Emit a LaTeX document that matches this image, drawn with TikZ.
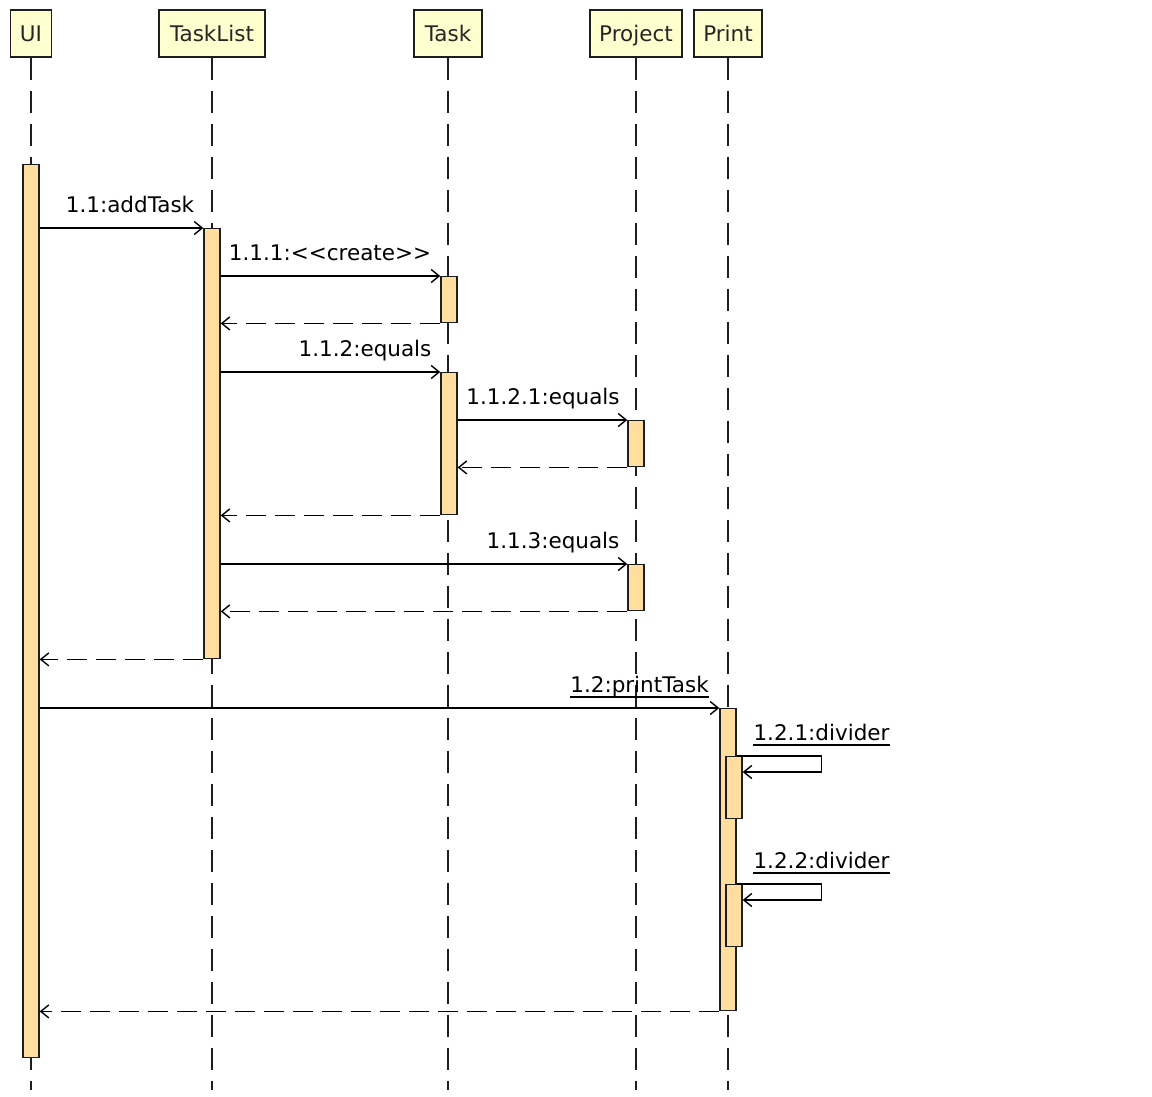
\documentclass[tikz,border=0pt]{standalone}
\usepackage{fontspec}
\setmainfont{DejaVu Sans}
\usetikzlibrary{arrows.meta}
\definecolor{hdrfill}{HTML}{FEFECE}
\definecolor{actfill}{HTML}{FFDEA0}
\definecolor{edgec}{HTML}{1E1E1E}
\begin{document}
\begin{tikzpicture}[x=1pt,y=-1pt,
  lblfont/.style={font=\fontsize{21.5}{25}\selectfont},
  hdr/.style={draw=edgec, fill=hdrfill, line width=1.4pt, minimum height=47pt, inner sep=0pt, lblfont, text=black!85, text height=15.6pt, text depth=0pt},
  lifeline/.style={draw=edgec, line width=1.5pt, dash pattern=on 22pt off 11pt},
  act/.style={draw=edgec, fill=actfill, line width=1.4pt, minimum width=16pt, inner sep=0pt},
  msg/.style={draw=black, line width=1.4pt, -{Straight Barb[length=8pt,width=13pt,line width=1.4pt]}},
  ret/.style={msg, dash pattern=on 20pt off 9pt},
  lbl/.style={lblfont, inner sep=0pt, anchor=base},
  uline/.style={draw=black, line width=1.4pt}
]
\useasboundingbox (0,0) rectangle (1152,1096);
\fill[white] (0,0) rectangle (1152,1096);

% headers
\node[hdr, minimum width=41pt] (hUI) at (31,33.5) {UI};
\node[hdr, minimum width=106pt] (hTL) at (212,33.5) {TaskList};
\node[hdr, minimum width=68pt] (hT) at (448,33.5) {Task};
\node[hdr, minimum width=92pt] (hP) at (636,33.5) {Project};
\node[hdr, minimum width=68pt] (hPr) at (728,33.5) {Print};

% lifeline ends
\coordinate (eUI) at (31,1090);
\coordinate (eTL) at (212,1090);
\coordinate (eT) at (448,1090);
\coordinate (eP) at (636,1090);
\coordinate (ePr) at (728,1090);

\draw[lifeline] (hUI.south) -- (eUI);
\draw[lifeline] (hTL.south) -- (eTL);
\draw[lifeline] (hT.south) -- (eT);
\draw[lifeline] (hP.south) -- (eP);
\draw[lifeline] (hPr.south) -- (ePr);

% activation bars
\node[act, minimum height=893pt, anchor=north] (aUI) at (31,164) {};
\node[act, minimum height=430pt, anchor=north] (aTL) at (212,228) {};
\node[act, minimum height=46pt, anchor=north] (aT1) at (449,276) {};
\node[act, minimum height=142pt, anchor=north] (aT2) at (449,372) {};
\node[act, minimum height=46pt, anchor=north] (aP1) at (636,420) {};
\node[act, minimum height=46pt, anchor=north] (aP2) at (636,564) {};
\node[act, minimum height=302pt, anchor=north] (aPr) at (728,708) {};
\node[act, minimum height=62pt, anchor=north] (aD1) at (734,756) {};
\node[act, minimum height=62pt, anchor=north] (aD2) at (734,884) {};

% messages
\draw[msg] (aUI.east |- aTL.north) -- (aTL.north west);
\draw[msg] (aTL.east |- aT1.north) -- (aT1.north west);
\draw[ret] (aT1.south west) -- (aTL.east |- aT1.south);
\draw[msg] (aTL.east |- aT2.north) -- (aT2.north west);
\draw[msg] (aT2.east |- aP1.north) -- (aP1.north west);
\draw[ret] (aP1.south west) -- (aT2.east |- aP1.south);
\draw[ret] (aT2.south west) -- (aTL.east |- aT2.south);
\draw[msg] (aTL.east |- aP2.north) -- (aP2.north west);
\draw[ret] (aP2.south west) -- (aTL.east |- aP2.south);
\draw[ret] (aTL.south west) -- (aUI.east |- aTL.south);
\draw[msg] (aUI.east |- aPr.north) -- (aPr.north west);
\draw[msg] (aPr.east |- aD1.north) -- ++(85,0) |- ([yshift=-16pt]aD1.north east);
\draw[msg] (aPr.east |- aD2.north) -- ++(85,0) |- ([yshift=-16pt]aD2.north east);
\draw[ret] (aPr.south west) -- (aUI.east |- aPr.south);

% labels
\node[lbl] (l1) at (130,212) {1.1:addTask};
\node[lbl] (l2) at (330,260) {1.1.1:<{}<create>{}>};
\node[lbl] (l3) at (365,356) {1.1.2:equals};
\node[lbl] (l4) at (543,404) {1.1.2.1:equals};
\node[lbl] (l5) at (553,548) {1.1.3:equals};
\node[lbl] (l6) at (639.5,692) {1.2:printTask};
\node[lbl] (l7) at (821.5,740) {1.2.1:divider};
\node[lbl] (l8) at (821.5,868) {1.2.2:divider};
\draw[uline] ([yshift=-5pt]l6.base west) -- ([yshift=-5pt]l6.base east);
\draw[uline] ([yshift=-5pt]l7.base west) -- ([yshift=-5pt]l7.base east);
\draw[uline] ([yshift=-5pt]l8.base west) -- ([yshift=-5pt]l8.base east);
\end{tikzpicture}
\end{document}
